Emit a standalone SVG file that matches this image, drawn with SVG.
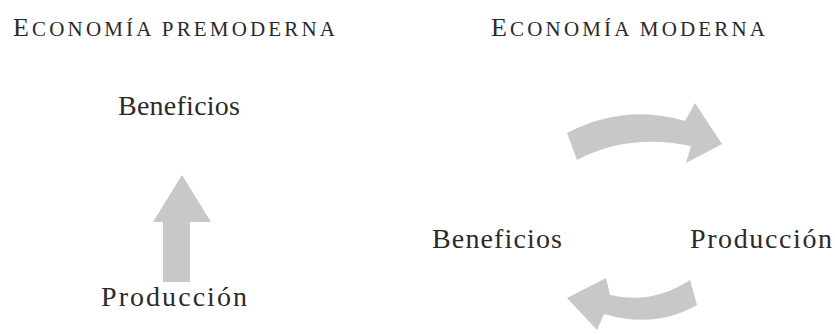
<svg xmlns="http://www.w3.org/2000/svg" width="835" height="334" viewBox="0 0 835 334">
<style>
.t{font-family:"Liberation Serif","Times New Roman",serif;fill:#2a2a2a;}
.title{font-size:21px;}
.cap{font-size:26px;}
.lbl{font-size:28px;}
.arr{fill:#c6c8ca;}
</style>
<rect width="835" height="334" fill="#ffffff"/>
<g id="title-premoderna"><text class="t title" x="13" y="36" textLength="322" lengthAdjust="spacing"><tspan class="cap">E</tspan>CONOMÍA PREMODERNA</text></g>
<g id="title-moderna"><text class="t title" x="491" y="36" textLength="274" lengthAdjust="spacing"><tspan class="cap">E</tspan>CONOMÍA MODERNA</text></g>
<g id="pre-beneficios"><text class="t lbl" x="118" y="115" textLength="122" lengthAdjust="spacing">Beneficios</text></g>
<g id="pre-produccion"><text class="t lbl" x="101" y="306" textLength="146" lengthAdjust="spacing">Producción</text></g>
<g id="mod-beneficios"><text class="t lbl" x="432" y="248" textLength="130" lengthAdjust="spacing">Beneficios</text></g>
<g id="mod-produccion"><text class="t lbl" x="690" y="248" textLength="142" lengthAdjust="spacing">Producción</text></g>
<g id="connectors">
<path class="arr" d="M182,175 L211,222 L190,222 L190,282 L163,282 L163,222 L153,222 Z"/>
<path class="arr" d="M567,133 Q625,103 685,121 L695,103 L722,144 L686,163 L691,146 Q628,133 577,160 Z"/>
<path class="arr" d="M690,280 Q652,305 610,295 L606,278 L567,298 L597,330 L604,314 Q655,329 697,305 Z"/>
</g>
</svg>
